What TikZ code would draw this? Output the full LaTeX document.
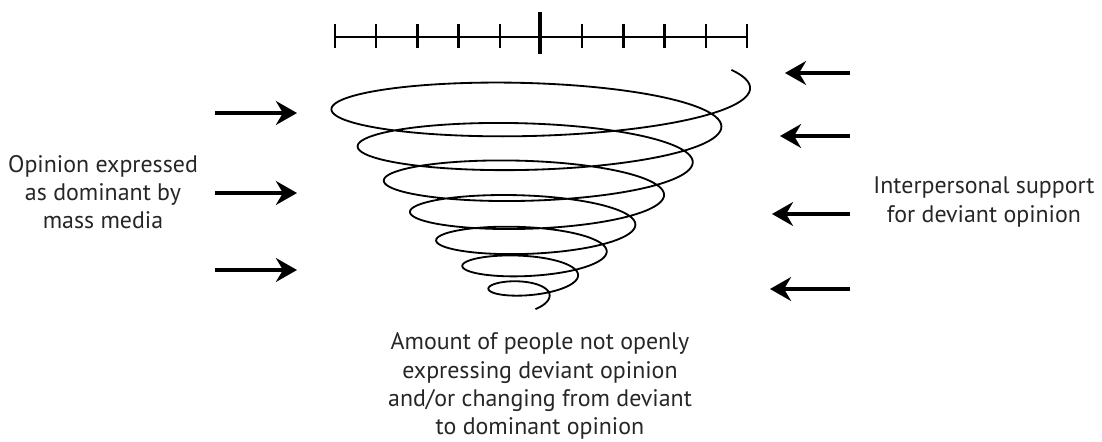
\documentclass[tikz,border=0pt]{standalone}
\usepackage{fontspec}
\setmainfont{PT Sans}
\usetikzlibrary{arrows.meta, positioning}

\begin{document}
\begin{tikzpicture}[x=0.025cm, y=-0.025cm,
  textbox/.style={font=\fontsize{17}{20}\selectfont, align=center,
                  inner sep=0pt, text=black!85},
  pressure/.style={-{Stealth[length=15pt, width=17pt, inset=5pt]}, line width=2.2pt},
  scalebar/.style={line width=1.8pt},
  spiral/.style={line width=1.3pt, line join=round}
]
\useasboundingbox (0,0) rectangle (1102,441);

% Opinion scale
\draw[scalebar] (335,37) -- (747,37);
\foreach \i in {0,...,10}
  \draw[scalebar] ({335+41.2*\i},24) -- ++(0,24);
\draw[line width=3.5pt] (540,12) -- (540,54);

% Spiral (\k counts turns)
\draw[spiral] plot[domain=-0.07:7.17, samples=700, smooth, variable=\k]
  ({534.2-1.25*\k + (215.9-27.45*\k)*cos(360*\k)},
   {89+40*\k-1.45*\k*\k + (38-4*\k)*sin(360*\k)});

% Labels
\node[textbox] (media) at (103,192) {Opinion expressed\\as dominant by\\mass media};
\node[textbox] (support) at (984,202) {Interpersonal support\\for deviant opinion};
\node[textbox] (silence) at (540,386) {Amount of people not openly\\expressing deviant opinion\\and/or changing from deviant\\to dominant opinion};

% Mass media arrows
\foreach \y [count=\n] in {113,193,270} {
  \coordinate (ms\n) at (215,\y);
  \coordinate (me\n) at (297,\y);
  \draw[pressure] (ms\n) -- (me\n);
}

% Interpersonal support arrows
\foreach \y/\x [count=\n] in {73/785,136/780,214/772,289/770} {
  \coordinate (ss\n) at (850,\y);
  \coordinate (se\n) at (\x,\y);
  \draw[pressure] (ss\n) -- (se\n);
}

\end{tikzpicture}
\end{document}
